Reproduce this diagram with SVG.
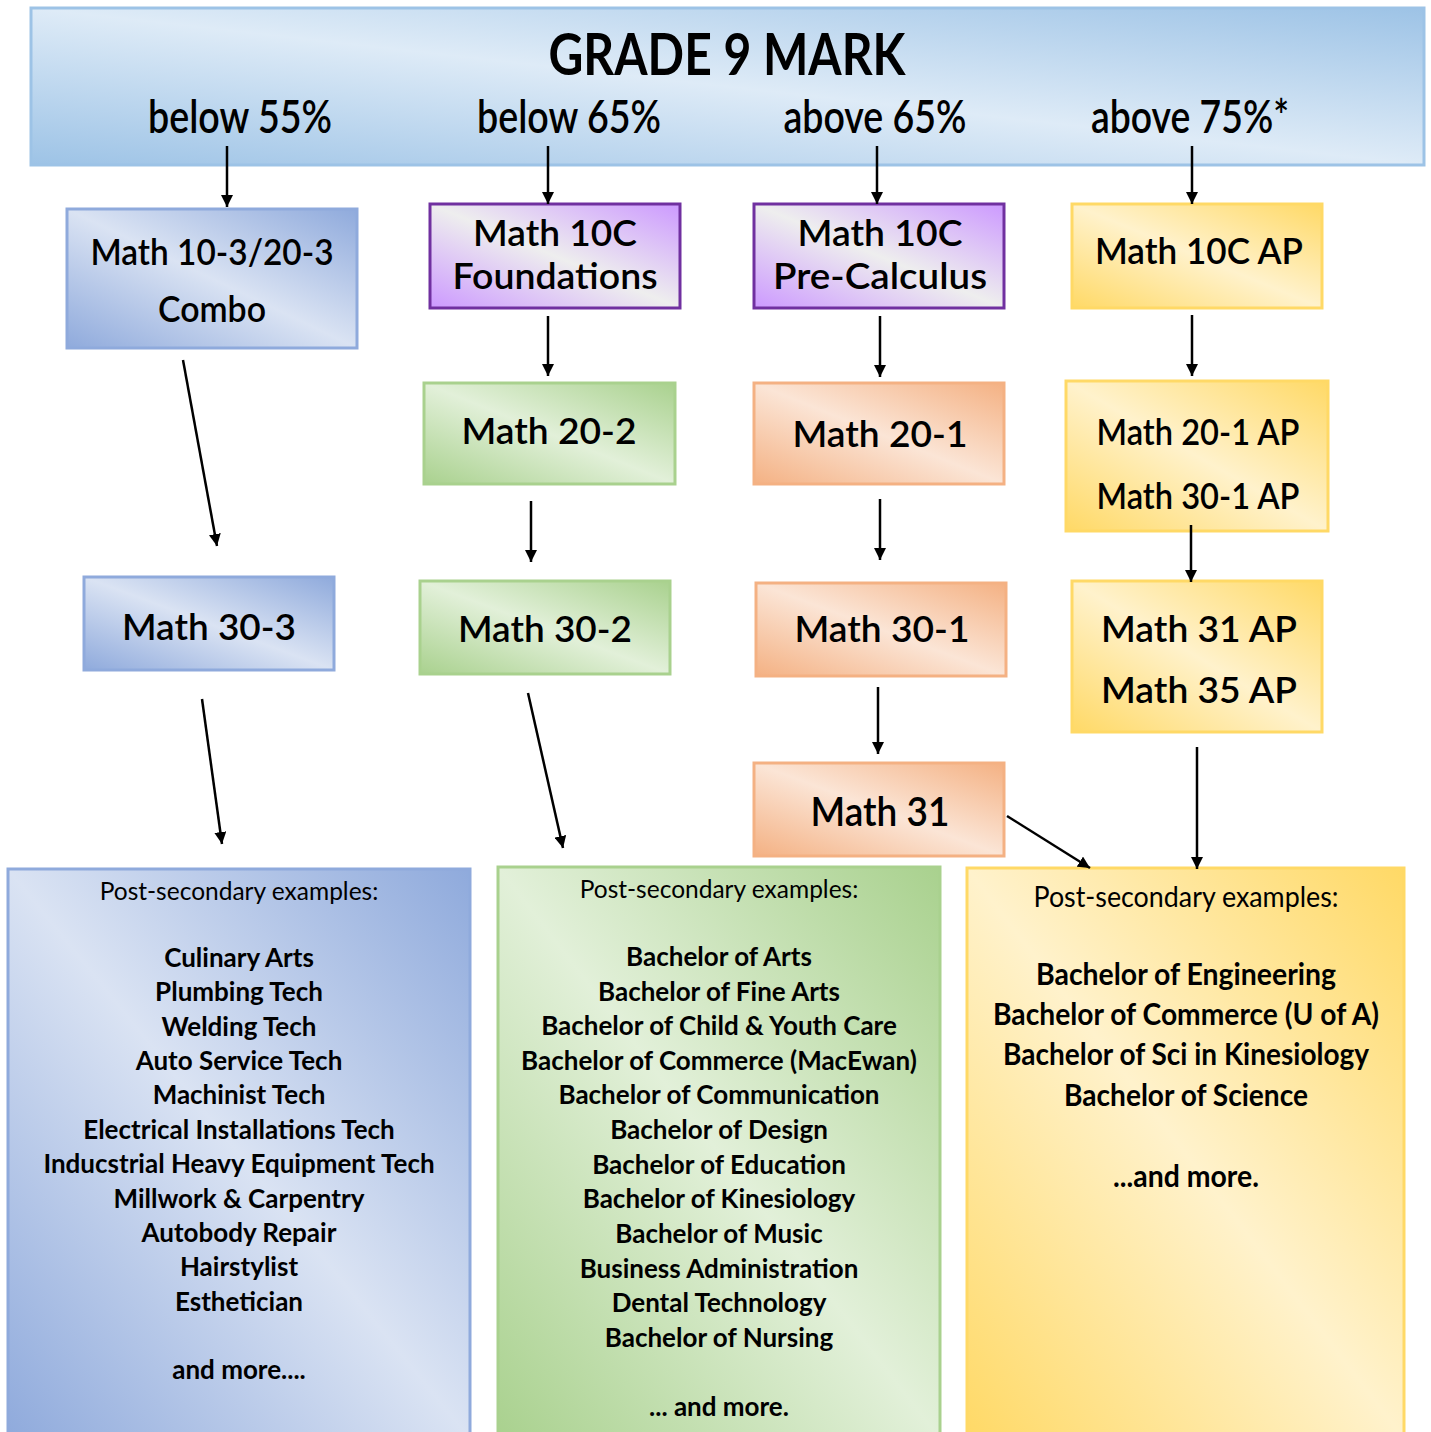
<svg xmlns="http://www.w3.org/2000/svg" width="1431" height="1432" viewBox="0 0 1431 1432">
<defs>
<linearGradient id="gHead" x1="0" y1="1" x2="1" y2="0"><stop offset="0" stop-color="#9dc3e6"/><stop offset="0.5" stop-color="#deebf7"/><stop offset="1" stop-color="#9dc3e6"/></linearGradient>
<linearGradient id="gBlue" x1="0" y1="1" x2="1" y2="0"><stop offset="0" stop-color="#8faadc"/><stop offset="0.5" stop-color="#dae3f3"/><stop offset="1" stop-color="#8faadc"/></linearGradient>
<linearGradient id="gPurple" x1="0" y1="1" x2="1" y2="0"><stop offset="0" stop-color="#cc99ff"/><stop offset="0.5" stop-color="#eeeeee"/><stop offset="1" stop-color="#cc99ff"/></linearGradient>
<linearGradient id="gGreen" x1="0" y1="1" x2="1" y2="0"><stop offset="0" stop-color="#a9d18e"/><stop offset="0.5" stop-color="#e2f0d9"/><stop offset="1" stop-color="#a9d18e"/></linearGradient>
<linearGradient id="gOrange" x1="0" y1="1" x2="1" y2="0"><stop offset="0" stop-color="#f4b183"/><stop offset="0.5" stop-color="#fbe5d6"/><stop offset="1" stop-color="#f4b183"/></linearGradient>
<linearGradient id="gYellow" x1="0" y1="1" x2="1" y2="0"><stop offset="0" stop-color="#ffd966"/><stop offset="0.5" stop-color="#fff2cc"/><stop offset="1" stop-color="#ffd966"/></linearGradient>
<marker id="arr" markerUnits="userSpaceOnUse" viewBox="0 0 12 12" refX="12" refY="6" markerWidth="12" markerHeight="12" orient="auto"><path d="M0,0 L12,6 L0,12 z" fill="#000"/></marker>
<style>
text{font-family:Lato,"Open Sans","Liberation Sans",sans-serif;fill:#000;text-anchor:middle}
.title{font-size:58px;font-weight:700}
.hl{font-size:46px;font-weight:600}
.nt{font-size:37px;font-weight:600}
.nt31{font-size:40px;font-weight:600}
.ps{font-size:24.5px;font-weight:400}
.li{font-size:26px;font-weight:700}
.psY{font-size:28px;font-weight:400}
.liY{font-size:30px;font-weight:700}
.head{fill:url(#gHead);stroke:#9dc3e6;stroke-width:3}
.blue{fill:url(#gBlue);stroke:#8faadc;stroke-width:3}
.purple{fill:url(#gPurple);stroke:#7030a0;stroke-width:3}
.green{fill:url(#gGreen);stroke:#a9d18e;stroke-width:3}
.orange{fill:url(#gOrange);stroke:#f4b183;stroke-width:3}
.yellow{fill:url(#gYellow);stroke:#ffd966;stroke-width:3}
.c{stroke:#000;stroke-width:2.5;fill:none;marker-end:url(#arr)}
</style>
</defs>
<rect width="1431" height="1432" fill="#fff"/>

<g id="header">
<rect class="head" x="31" y="8" width="1393" height="157"/>
<text class="title" x="727" y="75" textLength="357" lengthAdjust="spacingAndGlyphs">GRADE 9 MARK</text>
<text class="hl" x="240" y="133" textLength="184" lengthAdjust="spacingAndGlyphs">below 55%</text>
<text class="hl" x="569" y="133" textLength="184" lengthAdjust="spacingAndGlyphs">below 65%</text>
<text class="hl" x="875" y="133" textLength="183" lengthAdjust="spacingAndGlyphs">above 65%</text>
<text class="hl" x="1190" y="133" textLength="198" lengthAdjust="spacingAndGlyphs">above 75%*</text>
</g>

<g id="n-combo">
<rect class="blue" x="67" y="209" width="290" height="139"/>
<text class="nt" x="212" y="265" textLength="243" lengthAdjust="spacingAndGlyphs">Math 10-3/20-3</text>
<text class="nt" x="212" y="322" textLength="108" lengthAdjust="spacingAndGlyphs">Combo</text>
</g>
<g id="n-10c-found">
<rect class="purple" x="430" y="204" width="250" height="104"/>
<text class="nt" x="555" y="246" textLength="164" lengthAdjust="spacingAndGlyphs">Math 10C</text>
<text class="nt" x="555" y="289" textLength="205" lengthAdjust="spacingAndGlyphs">Foundations</text>
</g>
<g id="n-10c-pre">
<rect class="purple" x="754" y="204" width="250" height="104"/>
<text class="nt" x="880" y="246" textLength="165" lengthAdjust="spacingAndGlyphs">Math 10C</text>
<text class="nt" x="880" y="289" textLength="214" lengthAdjust="spacingAndGlyphs">Pre-Calculus</text>
</g>
<g id="n-10c-ap">
<rect class="yellow" x="1072" y="204" width="250" height="104"/>
<text class="nt" x="1199" y="264" textLength="208" lengthAdjust="spacingAndGlyphs">Math 10C AP</text>
</g>
<g id="n-20-2">
<rect class="green" x="424" y="383" width="251" height="101"/>
<text class="nt" x="549" y="444" textLength="175" lengthAdjust="spacingAndGlyphs">Math 20-2</text>
</g>
<g id="n-20-1">
<rect class="orange" x="754" y="383" width="250" height="101"/>
<text class="nt" x="880" y="447" textLength="175" lengthAdjust="spacingAndGlyphs">Math 20-1</text>
</g>
<g id="n-20-1-ap">
<rect class="yellow" x="1066" y="381" width="262" height="150"/>
<text class="nt" x="1198" y="445" textLength="203" lengthAdjust="spacingAndGlyphs">Math 20-1 AP</text>
<text class="nt" x="1198" y="509" textLength="203" lengthAdjust="spacingAndGlyphs">Math 30-1 AP</text>
</g>
<g id="n-30-3">
<rect class="blue" x="84" y="577" width="250" height="93"/>
<text class="nt" x="209" y="640" textLength="174" lengthAdjust="spacingAndGlyphs">Math 30-3</text>
</g>
<g id="n-30-2">
<rect class="green" x="420" y="581" width="250" height="93"/>
<text class="nt" x="545" y="642" textLength="174" lengthAdjust="spacingAndGlyphs">Math 30-2</text>
</g>
<g id="n-30-1">
<rect class="orange" x="756" y="583" width="250" height="93"/>
<text class="nt" x="882" y="642" textLength="175" lengthAdjust="spacingAndGlyphs">Math 30-1</text>
</g>
<g id="n-31-ap">
<rect class="yellow" x="1072" y="581" width="250" height="151"/>
<text class="nt" x="1199" y="642" textLength="196" lengthAdjust="spacingAndGlyphs">Math 31 AP</text>
<text class="nt" x="1199" y="703" textLength="196" lengthAdjust="spacingAndGlyphs">Math 35 AP</text>
</g>
<g id="n-31">
<rect class="orange" x="754" y="763" width="250" height="93"/>
<text class="nt31" x="880" y="826" textLength="139" lengthAdjust="spacingAndGlyphs">Math 31</text>
</g>

<g id="p-blue">
<rect class="blue" x="8" y="869" width="462" height="570"/>
<text class="ps" x="239" y="900">Post-secondary examples:</text>
<text class="li" x="239" y="967">Culinary Arts</text>
<text class="li" x="239" y="1001">Plumbing Tech</text>
<text class="li" x="239" y="1036">Welding Tech</text>
<text class="li" x="239" y="1070">Auto Service Tech</text>
<text class="li" x="239" y="1104">Machinist Tech</text>
<text class="li" x="239" y="1139">Electrical Installations Tech</text>
<text class="li" x="239" y="1173">Inducstrial Heavy Equipment Tech</text>
<text class="li" x="239" y="1208">Millwork &amp; Carpentry</text>
<text class="li" x="239" y="1242">Autobody Repair</text>
<text class="li" x="239" y="1276">Hairstylist</text>
<text class="li" x="239" y="1311">Esthetician</text>
<text class="li" x="239" y="1379">and more....</text>
</g>
<g id="p-green">
<rect class="green" x="498" y="867" width="442" height="572"/>
<text class="ps" x="719" y="898">Post-secondary examples:</text>
<text class="li" x="719" y="966">Bachelor of Arts</text>
<text class="li" x="719" y="1001">Bachelor of Fine Arts</text>
<text class="li" x="719" y="1035">Bachelor of Child &amp; Youth Care</text>
<text class="li" x="719" y="1070">Bachelor of Commerce (MacEwan)</text>
<text class="li" x="719" y="1104">Bachelor of Communication</text>
<text class="li" x="719" y="1139">Bachelor of Design</text>
<text class="li" x="719" y="1174">Bachelor of Education</text>
<text class="li" x="719" y="1208">Bachelor of Kinesiology</text>
<text class="li" x="719" y="1243">Bachelor of Music</text>
<text class="li" x="719" y="1278">Business Administration</text>
<text class="li" x="719" y="1312">Dental Technology</text>
<text class="li" x="719" y="1347">Bachelor of Nursing</text>
<text class="li" x="719" y="1416">... and more.</text>
</g>
<g id="p-yellow">
<rect class="yellow" x="967" y="868" width="437" height="571"/>
<text class="psY" x="1186" y="907" textLength="305" lengthAdjust="spacingAndGlyphs">Post-secondary examples:</text>
<text class="liY" x="1186" y="985" textLength="300" lengthAdjust="spacingAndGlyphs">Bachelor of Engineering</text>
<text class="liY" x="1186" y="1025" textLength="386" lengthAdjust="spacingAndGlyphs">Bachelor of Commerce (U of A)</text>
<text class="liY" x="1186" y="1065" textLength="366" lengthAdjust="spacingAndGlyphs">Bachelor of Sci in Kinesiology</text>
<text class="liY" x="1186" y="1106" textLength="244" lengthAdjust="spacingAndGlyphs">Bachelor of Science</text>
<text class="liY" x="1186" y="1187" textLength="146" lengthAdjust="spacingAndGlyphs">...and more.</text>
</g>

<g id="connectors">
<line class="c" x1="227" y1="146" x2="227" y2="207"/>
<line class="c" x1="548" y1="146" x2="548" y2="204"/>
<line class="c" x1="877" y1="146" x2="877" y2="204"/>
<line class="c" x1="1192" y1="146" x2="1192" y2="204"/>
<line class="c" x1="183" y1="360" x2="217" y2="546"/>
<line class="c" x1="548" y1="316" x2="548" y2="376"/>
<line class="c" x1="880" y1="316" x2="880" y2="377"/>
<line class="c" x1="1192" y1="315" x2="1192" y2="376"/>
<line class="c" x1="531" y1="501" x2="531" y2="562"/>
<line class="c" x1="880" y1="499" x2="880" y2="560"/>
<line class="c" x1="1191" y1="525" x2="1191" y2="582"/>
<line class="c" x1="202" y1="699" x2="222" y2="844"/>
<line class="c" x1="528" y1="693" x2="563" y2="848"/>
<line class="c" x1="878" y1="687" x2="878" y2="754"/>
<line class="c" x1="1197" y1="747" x2="1197" y2="869"/>
<line class="c" x1="1007" y1="816" x2="1090" y2="868"/>
</g>
</svg>
